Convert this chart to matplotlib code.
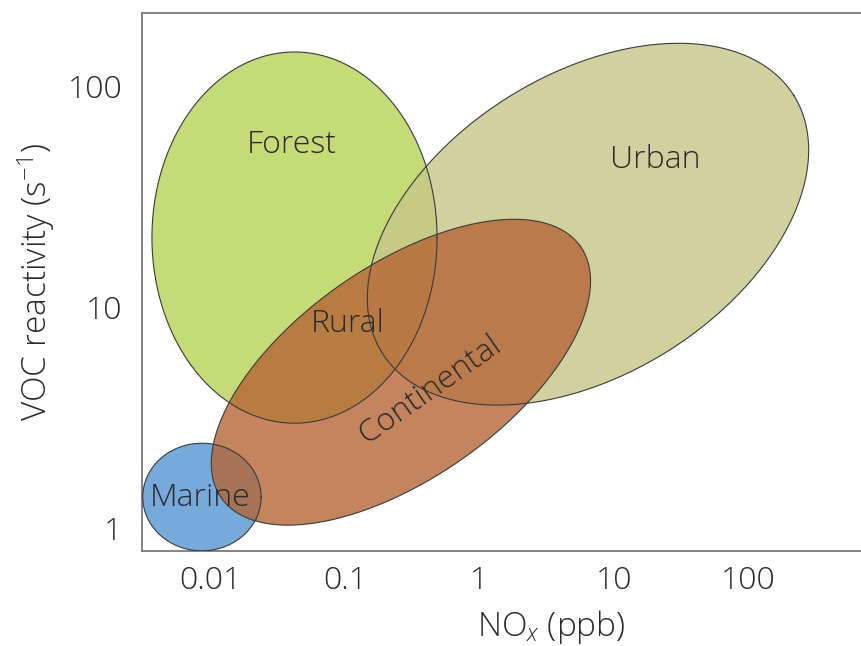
import numpy as np
import matplotlib
matplotlib.use('Agg')
import matplotlib.pyplot as plt

# Regions: centre (NOx ppb, VOC reactivity s-1), size in NOx decades, tilt in degrees
regions = ['Marine', 'Forest', 'Urban', 'Continental']
center_nox = [0.00865, 0.0422, 6.42, 0.261]
center_voc = [1.386, 20.7, 23.8, 5.09]
width_dec = [0.88, 2.12, 3.61, 3.26]
height_dec = [0.80, 2.76, 2.23, 1.58]
tilt_deg = [0, 0, 32, 35]
colors = ['#75aadc', '#c5dc78', '#d1d1a0', '#c4845e']

# label positions (NOx, VOC, rotation)
label_text = ['Forest', 'Urban', 'Rural', 'Continental', 'Marine']
label_nox = [0.0404, 20.2, 0.1055, 0.43, 0.00836]
label_voc = [54.2, 46.4, 8.4, 4.23, 1.37]
label_rot = [0, 0, 0, 35, 0]

x_ticks = [0.01, 0.1, 1, 10, 100]
x_ticklabels = ['0.01', '0.1', '1', '10', '100']
y_ticks = [1, 10, 100]
y_ticklabels = ['1', '10', '100']

plt.rcParams['font.family'] = ['Open Sans', 'DejaVu Sans']
plt.rcParams['font.weight'] = 'light'
plt.rcParams['axes.labelweight'] = 'light'
plt.rcParams['mathtext.fontset'] = 'custom'
plt.rcParams['mathtext.rm'] = 'Open Sans:light'
plt.rcParams['mathtext.it'] = 'Open Sans:italic:light'

txt = '#2a2a2a'
alpha = 0.8

fig = plt.figure(figsize=(8.61, 6.46), dpi=100)
ax = fig.add_axes([0.1649, 0.1471, 0.950, 0.8328])
ax.set_xscale('log')
ax.set_yscale('log')
xmin, xmax = 0.0031, 3740
ymin, ymax = 0.79, 215
ax.set_xlim(xmin, xmax)
ax.set_ylim(ymin, ymax)

# ratio of pixels per y decade to pixels per x decade
bb = ax.get_position()
px_x = bb.width * fig.get_figwidth() / np.log10(xmax / xmin)
px_y = bb.height * fig.get_figheight() / np.log10(ymax / ymin)
k = px_y / px_x


def ellipse_xy(cx, cy, w, h, ang):
    t = np.linspace(0, 2 * np.pi, 400)
    u = w / 2 * np.cos(t)
    v = h / 2 * np.sin(t)
    r = np.deg2rad(ang)
    du = u * np.cos(r) - v * np.sin(r)
    dv = u * np.sin(r) + v * np.cos(r)
    return 10 ** (np.log10(cx) + du), 10 ** (np.log10(cy) + dv / k)


outlines = []
for i in range(len(regions)):
    ex, ey = ellipse_xy(center_nox[i], center_voc[i], width_dec[i], height_dec[i], tilt_deg[i])
    rgba = matplotlib.colors.to_rgba(colors[i])
    face = tuple((c - (1 - alpha)) / alpha for c in rgba[:3])
    face = tuple(min(max(c, 0), 1) for c in face)
    ax.fill(ex, ey, facecolor=face, alpha=alpha, edgecolor='none', zorder=2 + i)
    outlines.append((ex, ey))

for ex, ey in outlines:
    ax.plot(ex, ey, color='#3a3a3a', lw=0.8, zorder=10)

for t, x, y, r in zip(label_text, label_nox, label_voc, label_rot):
    ax.text(x, y, t, ha='center', va='center', rotation=r, fontsize=23,
            color=txt, zorder=12, rotation_mode='anchor')

ax.set_xticks(x_ticks)
ax.set_xticklabels(x_ticklabels)
ax.set_yticks(y_ticks)
ax.set_yticklabels(y_ticklabels)
ax.minorticks_off()
ax.tick_params(axis='both', length=0, labelsize=23, labelcolor=txt)
ax.tick_params(axis='x', pad=10)
ax.tick_params(axis='y', pad=14)

for s in ['left', 'top', 'bottom']:
    ax.spines[s].set_color('#7a7a7a')
    ax.spines[s].set_linewidth(1.3)
ax.spines['right'].set_visible(False)

ax.set_xlabel('NO$_x$ (ppb)', fontsize=24, color=txt, labelpad=8)
ax.set_ylabel('VOC reactivity (s$^{-1}$)', fontsize=24, color=txt, labelpad=8)

fig.savefig('out.png', dpi=100)
